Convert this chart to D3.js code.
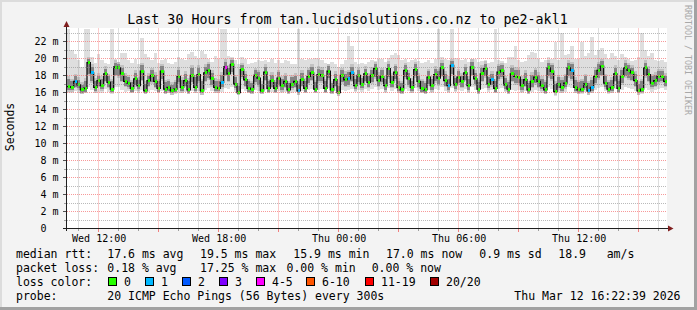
<!DOCTYPE html>
<html>
<head>
<meta charset="utf-8">
<script src="https://cdn.jsdelivr.net/npm/d3@7"></script>
<style>
  body { margin: 0; background: #f3f3f3; }
  text { font-family: "DejaVu Sans Mono", monospace; fill: #000; }
</style>
</head>
<body>
<div id="chart"></div>
<script>
// median rtt per 10 minute step (ms)
const median = [
  16.7, 16.6, 17.3, 16.9, 16.3, 16.5, 19.5, 18.3, 16.6, 17.4,
  16.8, 18.2, 17.2, 16.4, 19.0, 18.9, 18.2, 17.3, 17.1, 16.5,
  17.6, 16.8, 18.5, 16.2, 17.4, 18.0, 17.3, 16.5, 18.5, 16.4,
  16.6, 16.2, 16.4, 17.9, 16.6, 17.4, 16.3, 18.0, 16.6, 18.1,
  16.2, 18.3, 18.6, 17.6, 16.6, 16.5, 17.2, 19.0, 18.2, 19.3,
  17.0, 16.0, 18.7, 17.5, 16.5, 16.4, 18.0, 17.7, 16.2, 18.4,
  16.5, 17.4, 16.5, 17.7, 16.8, 17.3, 16.3, 17.0, 17.3, 16.2,
  17.5, 16.5, 17.9, 18.3, 16.4, 18.1, 18.0, 16.5, 18.5, 16.3,
  17.5, 16.0, 18.0, 17.5, 17.6, 18.3, 16.8, 18.0, 17.0, 18.2,
  17.2, 18.0, 18.8, 17.4, 17.9, 16.8, 18.8, 17.2, 18.4, 16.6,
  16.3, 18.6, 17.6, 16.6, 18.7, 17.3, 16.5, 16.3, 17.8, 16.8,
  18.1, 17.7, 18.9, 17.4, 16.8, 19.2, 16.9, 17.8, 17.3, 18.3,
  16.8, 19.0, 17.6, 16.4, 18.2, 18.8, 17.0, 17.5, 16.5, 18.4,
  18.6, 16.9, 16.4, 18.2, 17.9, 17.8, 16.8, 17.5, 16.3, 17.3,
  17.8, 17.3, 16.8, 16.3, 18.9, 18.5, 16.1, 17.0, 16.6, 17.1,
  18.9, 18.6, 16.6, 16.3, 16.4, 17.0, 16.2, 16.6, 17.9, 18.6,
  19.1, 17.1, 16.4, 16.6, 18.2, 16.5, 17.9, 18.9, 18.6, 18.3,
  17.4, 16.2, 16.4, 18.9, 18.1, 17.1, 17.4, 17.9, 17.9, 17.3
];

// highest ping of each step (light smoke top)
const smokeTop = [
  23.5, 21.0, 20.5, 19.8, 19.0, 23.5, 23.5, 20.2, 19.5, 20.5,
  19.8, 19.5, 19.4, 23.5, 20.0, 19.6, 20.7, 20.6, 19.8, 19.5,
  20.0, 19.3, 22.4, 20.5, 20.2, 19.8, 20.7, 19.5, 19.8, 20.0,
  19.5, 19.4, 19.6, 20.2, 20.0, 19.8, 20.5, 20.8, 20.3, 20.0,
  20.9, 20.5, 20.0, 19.6, 20.3, 20.0, 23.5, 23.5, 20.3, 20.2,
  19.8, 19.4, 20.2, 20.0, 19.4, 19.5, 19.6, 19.8, 19.7, 19.8,
  19.6, 20.0, 19.5, 19.8, 19.5, 19.8, 19.7, 19.4, 19.3, 23.5,
  20.0, 19.8, 19.9, 20.0, 20.1, 20.0, 19.8, 19.5, 19.4, 19.6,
  19.4, 19.0, 19.3, 19.8, 22.6, 21.5, 19.6, 19.3, 19.5, 19.4,
  19.6, 19.8, 19.7, 19.9, 20.0, 19.6, 20.1, 20.4, 20.6, 20.4,
  19.8, 19.9, 19.6, 19.8, 19.9, 19.7, 19.5, 19.6, 19.8, 19.5,
  19.9, 23.5, 20.2, 20.0, 19.8, 23.5, 20.1, 20.0, 19.8, 19.9,
  19.6, 20.0, 19.9, 19.6, 19.7, 19.8, 19.5, 19.6, 23.5, 19.8,
  19.7, 19.5, 20.2, 20.2, 21.5, 19.8, 19.6, 19.7, 20.4, 20.8,
  20.6, 20.0, 19.6, 19.8, 20.2, 20.0, 22.0, 19.8, 23.0, 20.4,
  20.5, 21.5, 20.0, 19.9, 22.0, 20.3, 20.6, 22.5, 20.4, 21.0,
  21.2, 20.5, 20.0, 20.6, 20.3, 19.8, 20.5, 20.2, 20.0, 19.7,
  19.8, 20.2, 23.0, 21.0, 20.3, 20.6, 19.8, 19.7, 19.8, 19.6
];

// lowest ping of each step (light smoke bottom)
const smokeBottom = [
  15.9, 16.0, 16.2, 16.0, 15.8, 15.9, 16.6, 16.3, 15.9, 16.1,
  16.0, 16.4, 16.1, 15.8, 16.7, 16.6, 16.3, 16.1, 16.2, 15.9,
  16.2, 16.0, 16.3, 15.8, 16.1, 16.3, 16.2, 15.9, 16.2, 15.8,
  15.9, 15.7, 15.8, 16.1, 15.9, 16.1, 15.8, 16.2, 15.9, 16.2,
  15.7, 16.3, 16.5, 16.2, 15.9, 15.9, 16.1, 16.5, 16.4, 16.7,
  16.1, 15.7, 16.4, 16.2, 15.9, 15.8, 16.3, 16.2, 15.8, 16.3,
  15.9, 16.1, 15.9, 16.2, 16.0, 16.1, 15.8, 16.0, 16.1, 15.7,
  16.2, 15.9, 16.3, 16.4, 15.9, 16.3, 16.4, 15.9, 16.5, 15.8,
  16.2, 15.6, 16.3, 16.2, 16.3, 16.4, 16.1, 16.3, 16.1, 16.4,
  16.2, 16.4, 16.6, 16.3, 16.4, 16.0, 16.5, 16.2, 16.4, 15.9,
  15.8, 16.4, 16.2, 15.9, 16.5, 16.2, 15.9, 15.8, 16.3, 16.0,
  16.4, 16.3, 16.6, 16.2, 16.0, 16.5, 16.1, 16.3, 16.2, 16.4,
  16.0, 16.6, 16.3, 15.8, 16.4, 16.5, 16.1, 16.3, 15.9, 16.4,
  16.5, 16.1, 15.8, 16.3, 16.2, 16.3, 16.0, 16.2, 15.8, 16.1,
  16.3, 16.2, 16.0, 15.8, 16.6, 16.4, 15.6, 16.1, 15.9, 16.1,
  16.6, 16.5, 15.9, 15.8, 15.8, 16.1, 15.7, 15.9, 16.3, 16.5,
  16.7, 16.2, 15.8, 15.9, 16.4, 15.9, 16.3, 16.6, 16.5, 16.4,
  16.2, 15.7, 15.8, 16.5, 16.3, 16.1, 16.3, 16.4, 16.5, 16.3
];

// dense (dark) part of the smoke
const darkTop = [
  17.6, 17.3, 17.9, 17.5, 16.9, 17.4, 19.9, 19.0, 17.4, 18.0,
  17.6, 18.8, 17.9, 17.3, 19.5, 19.4, 18.9, 18.0, 17.8, 17.2,
  18.3, 17.5, 19.2, 17.0, 18.0, 18.6, 18.1, 17.3, 19.1, 17.2,
  17.3, 16.9, 17.2, 18.7, 17.5, 18.2, 17.4, 18.9, 17.8, 18.9,
  17.3, 19.0, 19.3, 18.3, 17.4, 17.3, 18.1, 19.6, 18.9, 19.8,
  17.8, 16.8, 19.2, 18.2, 17.3, 17.1, 18.6, 18.4, 17.0, 19.0,
  17.3, 18.1, 17.2, 18.4, 17.6, 18.0, 17.1, 17.8, 18.0, 17.0,
  18.3, 17.4, 18.6, 19.0, 17.2, 18.8, 18.7, 17.3, 19.1, 17.1,
  18.2, 16.8, 18.6, 18.2, 18.4, 19.0, 17.6, 18.6, 17.7, 18.8,
  18.0, 18.7, 19.3, 18.1, 18.6, 17.6, 19.4, 18.0, 19.1, 17.4,
  17.1, 19.2, 18.3, 17.4, 19.3, 18.0, 17.3, 17.1, 18.5, 17.6,
  18.8, 18.5, 19.5, 18.2, 17.6, 19.7, 17.7, 18.5, 18.0, 19.0,
  17.6, 19.6, 18.3, 17.2, 18.9, 19.4, 17.8, 18.2, 17.3, 19.1,
  19.2, 17.7, 17.2, 18.9, 18.7, 18.6, 17.6, 18.3, 17.1, 18.1,
  18.6, 18.1, 17.6, 17.2, 19.5, 19.2, 17.0, 17.8, 17.5, 17.9,
  19.5, 19.3, 17.5, 17.2, 17.3, 17.9, 17.1, 17.5, 18.7, 19.3,
  19.7, 17.9, 17.2, 17.5, 18.9, 17.3, 18.6, 19.5, 19.2, 18.9,
  18.2, 17.0, 17.3, 19.5, 18.8, 17.9, 18.1, 18.5, 18.5, 18.0
];
const darkBottom = [
  16.3, 16.3, 16.7, 16.5, 16.0, 16.1, 18.2, 17.3, 16.2, 16.8,
  16.4, 17.4, 16.7, 16.1, 18.1, 17.9, 17.4, 16.8, 16.6, 16.1,
  16.9, 16.4, 17.5, 15.9, 16.8, 17.2, 16.7, 16.1, 17.6, 16.0,
  16.2, 15.9, 16.1, 17.2, 16.2, 16.8, 16.0, 17.2, 16.2, 17.3,
  15.9, 17.4, 17.7, 16.9, 16.2, 16.2, 16.6, 18.1, 17.4, 18.4,
  16.5, 15.8, 17.8, 16.8, 16.1, 16.0, 17.2, 16.9, 15.9, 17.5,
  16.1, 16.7, 16.1, 16.9, 16.3, 16.7, 16.0, 16.5, 16.7, 15.9,
  16.8, 16.1, 17.1, 17.5, 16.1, 17.3, 17.3, 16.1, 17.7, 16.0,
  16.8, 15.8, 17.2, 16.8, 16.9, 17.4, 16.4, 17.2, 16.5, 17.4,
  16.7, 17.2, 17.8, 16.8, 17.2, 16.3, 17.8, 16.7, 17.6, 16.2,
  16.0, 17.8, 16.9, 16.2, 17.9, 16.7, 16.1, 16.0, 17.0, 16.3,
  17.3, 17.0, 18.0, 16.8, 16.3, 18.2, 16.4, 17.1, 16.7, 17.5,
  16.3, 18.1, 17.0, 16.0, 17.4, 17.9, 16.5, 16.9, 16.1, 17.6,
  17.8, 16.4, 16.0, 17.4, 17.1, 17.1, 16.3, 16.8, 16.0, 16.7,
  17.1, 16.7, 16.4, 16.0, 17.9, 17.6, 15.9, 16.5, 16.2, 16.6,
  17.9, 17.6, 16.2, 16.0, 16.1, 16.5, 15.9, 16.2, 17.1, 17.7,
  18.1, 16.6, 16.1, 16.2, 17.4, 16.1, 17.1, 17.9, 17.7, 17.5,
  16.8, 15.9, 16.1, 17.9, 17.4, 16.6, 16.8, 17.2, 17.3, 16.8
];

// steps that lost pings and how many were lost
const lossSteps = [2, 7, 46, 47, 69, 84, 85, 114, 115, 127, 151, 156, 157];
const lossPings = [1, 1, 1, 4, 1, 1, 1, 1, 1, 1, 1, 1, 1];

const lossLabels = ["0", "1", "2", "3", "4-5", "6-10", "11-19", "20/20"];
const lossColors = ["#26ff00", "#00b8ff", "#0059ff", "#7e00ff", "#ff00ff", "#ff5500", "#ff0000", "#a10000"];
const lossBoxX = [108.5, 145.5, 182.5, 219.5, 256.5, 306.5, 365.5, 430.5];

const yTicks = [0, 2, 4, 6, 8, 10, 12, 14, 16, 18, 20, 22];

const rttStats = [["17.6 ms avg", 107.3], ["19.5 ms max", 200], ["15.9 ms min", 293.3],
                  ["17.0 ms now", 386], ["0.9 ms sd", 479.3], ["18.9", 558.3], ["am/s", 606.7]];
const lossStats = [["0.18 % avg", 107.3], ["17.25 % max", 200], ["0.00 % min", 286.5], ["0.00 % now", 371.7]];

const W = 697, H = 310;
const plot = { left: 67, right: 667, top: 28.5, bottom: 228.5 };
const start = new Date(2026, 2, 11, 10, 25);
const end = new Date(2026, 2, 12, 16, 25);

const svg = d3.select("#chart").append("svg")
  .attr("width", W).attr("height", H);

// frame
svg.append("rect").attr("width", W).attr("height", H).attr("fill", "#f3f3f3");
svg.append("rect").attr("x", 0).attr("y", 0).attr("width", W).attr("height", 2).attr("fill", "#dcdcdc");
svg.append("rect").attr("x", 0).attr("y", 0).attr("width", 2).attr("height", H).attr("fill", "#dcdcdc");
svg.append("rect").attr("x", W - 3).attr("y", 0).attr("width", 3).attr("height", H).attr("fill", "#a2a2a2");
svg.append("rect").attr("x", 0).attr("y", H - 3).attr("width", W).attr("height", 3).attr("fill", "#a2a2a2");

// scales
const x = d3.scaleTime().domain([start, end]).range([plot.left, plot.right]);
const y = d3.scaleLinear().domain([0, 200 / 8.5]).range([plot.bottom, plot.top]);
const px = v => Math.floor(v) + 0.5;

svg.append("rect")
  .attr("x", plot.left).attr("y", plot.top - 0.5)
  .attr("width", plot.right - plot.left).attr("height", plot.bottom - plot.top)
  .attr("fill", "#fff");

const steps = median.map((m, i) => ({
  t0: d3.timeMinute.offset(start, 10 * i),
  t1: d3.timeMinute.offset(start, 10 * (i + 1)),
  med: m, lo: smokeBottom[i], hi: smokeTop[i], dlo: darkBottom[i], dhi: darkTop[i], loss: 0
}));
lossSteps.forEach((k, j) => { steps[k].loss = lossPings[j]; });

const lossClass = n => n === 0 ? 0 : n <= 3 ? n : n <= 5 ? 4 : n <= 10 ? 5 : n < 20 ? 6 : 7;

// smoke
const smoke = svg.append("g").attr("shape-rendering", "crispEdges");
const band = (lo, hi, color) => {
  smoke.append("g").selectAll("rect")
    .data(steps).join("rect")
    .attr("x", d => x(d.t0))
    .attr("width", d => x(d.t1) - x(d.t0))
    .attr("y", d => y(hi(d)))
    .attr("height", d => Math.max(0, y(lo(d)) - y(hi(d))))
    .attr("fill", color);
};
band(d => d.lo, d => d.hi, "#dedede");
band(d => Math.max(d.lo, d.dlo - 0.2), d => Math.min(d.hi, d.dhi + 0.3), "#c2c2c2");
band(d => d.dlo, d => d.dhi, "#858585");

// median line
const medLine = d3.line()
  .x(d => x(d.t)).y(d => y(d.v))
  .curve(d3.curveStepAfter);
const medPts = steps.map(s => ({ t: s.t0, v: s.med }));
medPts.push({ t: end, v: median[median.length - 1] });
svg.append("path")
  .attr("d", medLine(medPts))
  .attr("fill", "none").attr("stroke", "#111").attr("stroke-width", 1.3);

// loss coloured median markers
svg.append("g").attr("shape-rendering", "crispEdges")
  .selectAll("rect").data(steps).join("rect")
  .attr("x", d => x(d.t0) + 1)
  .attr("width", d => x(d.t1) - x(d.t0) - 1)
  .attr("y", d => y(d.med) - 1.5)
  .attr("height", 3)
  .attr("fill", d => lossColors[lossClass(d.loss)]);

// grid (drawn over the graph like rrdtool)
const grid = svg.append("g").attr("stroke-width", 1).attr("stroke-dasharray", "1,1");
const gridColor = "rgba(140,140,140,0.6)";
const mgridColor = "rgba(245,128,128,0.8)";
d3.range(1, 24).forEach(v => {
  grid.append("line")
    .attr("x1", plot.left).attr("x2", plot.right)
    .attr("y1", px(y(v))).attr("y2", px(y(v)))
    .attr("stroke", v % 2 === 0 ? mgridColor : gridColor);
});
const hours = x.ticks(d3.timeHour.every(1));
hours.forEach(t => {
  const major = t.getHours() % 3 === 0;
  grid.append("line")
    .attr("x1", px(x(t))).attr("x2", px(x(t)))
    .attr("y1", plot.top).attr("y2", plot.bottom)
    .attr("stroke", major ? mgridColor : gridColor);
});

// axis ticks
const ticks = svg.append("g").attr("stroke-width", 1);
hours.forEach(t => {
  const major = t.getHours() % 3 === 0;
  ticks.append("line")
    .attr("x1", px(x(t))).attr("x2", px(x(t)))
    .attr("y1", 229).attr("y2", major ? 232 : 231)
    .attr("stroke", major ? "#f08080" : "#a0a0a0");
});
d3.range(0, 24).forEach(v => {
  const major = v % 2 === 0;
  ticks.append("line")
    .attr("x1", major ? 63 : 64).attr("x2", 66)
    .attr("y1", px(y(v))).attr("y2", px(y(v)))
    .attr("stroke", major ? "#505050" : "#a0a0a0");
});

// axes with arrows
svg.append("line").attr("x1", 63).attr("x2", 669).attr("y1", 228.5).attr("y2", 228.5)
  .attr("stroke", "#1f1f1f");
svg.append("line").attr("x1", 66.5).attr("x2", 66.5).attr("y1", 231).attr("y2", 26)
  .attr("stroke", "#1f1f1f");
svg.append("path").attr("d", "M668,225.5L673.5,228.5L668,231.5Z").attr("fill", "#801f1f");
svg.append("path").attr("d", "M63.5,27L66.5,21L69.5,27Z").attr("fill", "#801f1f");

// y labels
svg.append("g").selectAll("text").data(yTicks).join("text")
  .attr("x", d => d === 0 ? 46.5 : 58.5)
  .attr("y", d => px(y(d)) + 3.5)
  .attr("text-anchor", "end")
  .attr("font-size", "10px")
  .text(d => d === 0 ? "0" : `${d} m`);

// x labels
svg.append("g").selectAll("text")
  .data(hours.filter(t => t.getHours() % 6 === 0)).join("text")
  .attr("x", d => x(d) + 0.5)
  .attr("y", 241.5)
  .attr("text-anchor", "middle")
  .attr("font-size", "10px")
  .text(d3.timeFormat("%a %H:%M"));

// title and side texts
svg.append("text").attr("x", 347.5).attr("y", 24)
  .attr("text-anchor", "middle").attr("font-size", "13.3px")
  .text("Last 30 Hours from tan.lucidsolutions.co.nz to pe2-akl1");
svg.append("text")
  .attr("transform", "translate(14,127) rotate(-90)")
  .attr("text-anchor", "middle").attr("font-size", "11.5px")
  .text("Seconds");
svg.append("text")
  .attr("transform", "translate(685,60) rotate(90)")
  .attr("text-anchor", "middle").attr("font-size", "8.3px")
  .style("fill", "#a8a8a8")
  .text("RRDTOOL / TOBI OETIKER");

// legend
const leg = svg.append("g").attr("font-size", "11.5px");
leg.append("text").attr("x", 16).attr("y", 257.5).text("median rtt:");
rttStats.forEach(([s, lx]) => leg.append("text").attr("x", lx).attr("y", 257.5).text(s));
leg.append("text").attr("x", 16).attr("y", 271.5).text("packet loss:");
lossStats.forEach(([s, lx]) => leg.append("text").attr("x", lx).attr("y", 271.5).text(s));
leg.append("text").attr("x", 16).attr("y", 285.5).text("loss color:");
lossLabels.forEach((lab, i) => {
  leg.append("rect").attr("x", lossBoxX[i]).attr("y", 277.5)
    .attr("width", 8).attr("height", 8)
    .attr("fill", lossColors[i]).attr("stroke", "#000").attr("stroke-width", 1);
  leg.append("text").attr("x", lossBoxX[i] + 15.5).attr("y", 285.5).text(lab);
});
leg.append("text").attr("x", 16).attr("y", 299.5).text("probe:");
leg.append("text").attr("x", 107.3).attr("y", 299.5).text("20 ICMP Echo Pings (56 Bytes) every 300s");
leg.append("text").attr("x", 680.5).attr("y", 299.5).attr("text-anchor", "end")
  .text("Thu Mar 12 16:22:39 2026");
</script>
</body>
</html>
